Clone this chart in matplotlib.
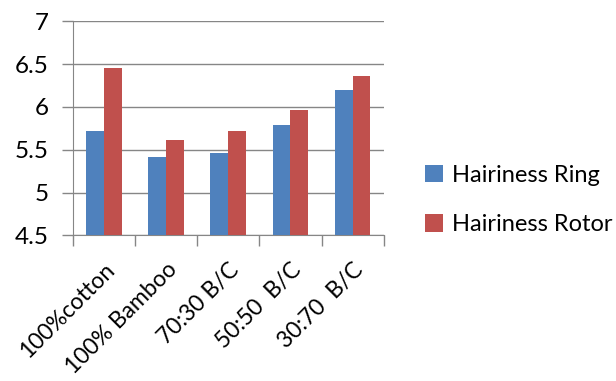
import numpy as np
import matplotlib
matplotlib.use('Agg')
import matplotlib.pyplot as plt

plt.rcParams['font.family'] = ['Lato', 'DejaVu Sans']

# hairiness index per yarn blend
categories = ['100%cotton', '100% Bamboo', '70:30 B/C', '50:50  B/C', '30:70  B/C']
ring = [5.72, 5.42, 5.46, 5.79, 6.20]
rotor = [6.46, 5.62, 5.72, 5.97, 6.36]

fig = plt.figure(figsize=(6.16, 3.81), dpi=100)
ax = fig.add_axes([0.118, 0.382, 0.505, 0.562])

x = np.arange(len(categories))
w = 1 / 3.5  # excel-style 150% gap width
ax.bar(x - w / 2, ring, w, color='#4F81BD', label='Hairiness Ring', zorder=3)
ax.bar(x + w / 2, rotor, w, color='#C0504D', label='Hairiness Rotor', zorder=3)

ax.set_ylim(4.5, 7)
ax.set_xlim(-0.5, len(categories) - 0.5)
ax.set_yticks([4.5, 5, 5.5, 6, 6.5, 7])
ax.set_yticklabels(['4.5', '5', '5.5', '6', '6.5', '7'])
ax.yaxis.grid(True, color='#868686', linewidth=1, zorder=0)

# x ticks sit on category boundaries, labels at centres
ax.set_xticks(np.arange(-0.5, len(categories)), minor=False)
ax.set_xticklabels([])
ax.set_xticks(x, minor=True)
ax.set_xticklabels(categories, minor=True, rotation=45, ha='right',
                   rotation_mode='anchor', fontsize=16.5)
ax.tick_params(axis='x', which='minor', length=0, pad=17)
ax.tick_params(axis='x', which='major', length=8, color='#868686', width=1)
ax.tick_params(axis='y', length=8, color='#868686', width=1, labelsize=17.5, pad=9)

for s in ['top', 'right']:
    ax.spines[s].set_visible(False)
for s in ['left', 'bottom']:
    ax.spines[s].set_color('#868686')

fig.legend(loc='center left', bbox_to_anchor=(0.69, 0.475), frameon=False,
           fontsize=17, handlelength=0.75, handleheight=0.75, handletextpad=0.4,
           labelspacing=1.2, borderpad=0, borderaxespad=0)

fig.savefig('out.png', dpi=100)
